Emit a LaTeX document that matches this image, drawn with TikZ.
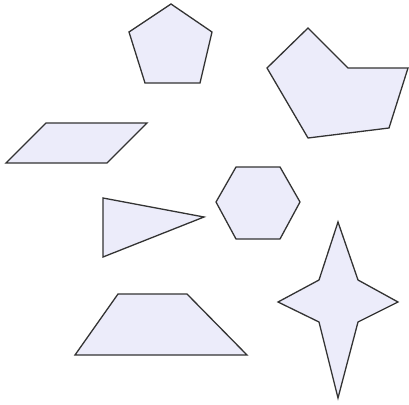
\documentclass[tikz,border=0pt]{standalone}
\usepackage{tikz}

\definecolor{shapefill}{RGB}{236,236,250}
\definecolor{shapeline}{RGB}{51,51,51}

\begin{document}
\begin{tikzpicture}[
    x=1pt, y=-1pt,
    poly/.style={
        fill=shapefill, draw=shapeline,
        line width=1.3pt, line join=miter
    }
]

\useasboundingbox (0,0) rectangle (409,404);

\draw[poly] (171,4) -- (212,32) -- (200,83) -- (145,83) -- (129,32) -- cycle;

\draw[poly] (308,28) -- (348,68) -- (408,68) -- (389,128) -- (308,138) -- (267,68) -- cycle;

\draw[poly] (46,123) -- (147,123) -- (107,163) -- (6,163) -- cycle;

\draw[poly] (103,198) -- (204,217) -- (103,257) -- cycle;

\draw[poly] (236,167) -- (280,167) -- (300,202) -- (280,239) -- (236,239) -- (216,202) -- cycle;

\draw[poly] (338,222) -- (358,280) -- (398,302) -- (358,322) -- (338,398)
    -- (319,322) -- (278,302) -- (319,280) -- cycle;

\draw[poly] (118,294) -- (187,294) -- (247,355) -- (75,355) -- cycle;

\end{tikzpicture}
\end{document}
